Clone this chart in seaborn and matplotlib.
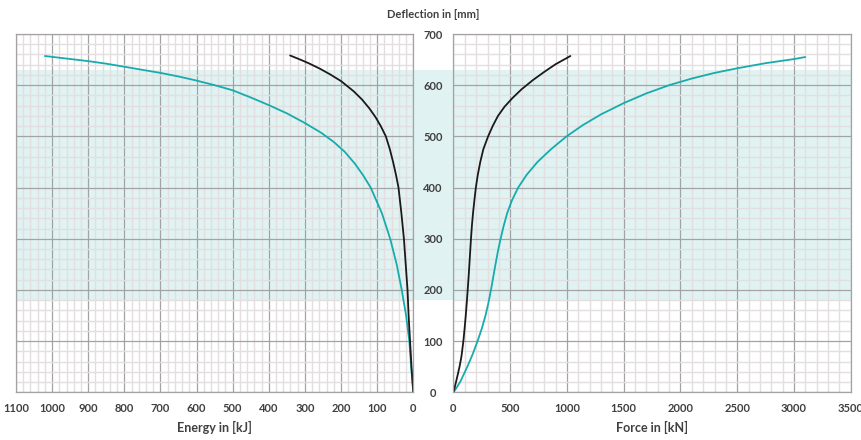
import matplotlib
matplotlib.use("Agg")
import matplotlib.pyplot as plt
import seaborn as sns
import pandas as pd
from matplotlib.ticker import MultipleLocator

# Energy-deflection curves (left panel)
energy_black_kj = [0, 5, 9, 13, 16, 21, 26, 33, 41, 48, 56, 65, 76, 90, 105, 122, 142, 165, 200, 230, 258,
                   290, 313, 341]
energy_black_mm = [0, 50, 100, 150, 200, 250, 300, 350, 400, 425, 450, 475, 500, 520, 538, 555, 572, 588,
                   608, 621, 632, 643, 650, 658]
energy_teal_kj = [0, 6, 11, 20, 32, 46, 64, 87, 118, 139, 161, 190, 220, 255, 300, 350, 400, 450, 500,
                  550, 600, 650, 700, 750, 800, 850, 900, 960, 1020]
energy_teal_mm = [0, 50, 100, 150, 200, 250, 300, 350, 400, 424, 446, 470, 489, 507, 526, 545, 561, 576, 590,
                  600, 609, 617, 624, 630, 636, 642, 647, 652, 657]

# Force-deflection curves (right panel)
force_black_kn = [0, 22, 40, 55, 70, 87, 98, 108, 117, 125, 133, 140, 147, 154, 162, 172, 184, 197, 214,
                  236, 263, 305, 345, 392, 450, 520, 600, 700, 800, 900, 1030]
force_black_mm = [0, 20, 37, 52, 70, 100, 125, 150, 175, 200, 225, 250, 275, 300, 325, 350, 375, 400, 425,
                  450, 475, 500, 520, 540, 558, 575, 592, 610, 626, 641, 657]
force_teal_kn = [0, 30, 58, 90, 122, 170, 212, 250, 282, 308, 330, 350, 370, 391, 415, 442, 473, 515, 570,
                 645, 740, 860, 996, 1140, 1300, 1500, 1700, 1900, 2100, 2300, 2500, 2750, 3000, 3100]
force_teal_mm = [0, 10, 20, 35, 50, 75, 100, 125, 150, 175, 200, 225, 250, 275, 300, 325, 350, 375, 400,
                 425, 450, 475, 500, 522, 543, 565, 584, 600, 613, 624, 633, 643, 651, 655]

band_lo, band_hi = 180, 630

energy_ticks = list(range(0, 1101, 100))
force_ticks = list(range(0, 3501, 500))
defl_ticks = list(range(0, 701, 100))

TEAL = "#17ABAB"
BLACK = "#1A1A1A"
TXT = "#404040"
MAJOR = "#A3A3A3"
MINOR = "#E3DEDF"

sns.set_theme(style="white")
plt.rcParams['font.family'] = ['Lato', 'DejaVu Sans']

W, H = 862, 440
fig = plt.figure(figsize=(W / 100, H / 100), dpi=100)


def box(x0, y0, x1, y1):
    return [x0 / W, 1 - y1 / H, (x1 - x0) / W, (y1 - y0) / H]


# background band spanning both panels and the gap between them
bg = fig.add_axes(box(16, 34, 850.7, 392.3))
bg.axhspan(band_lo, band_hi, color="#E1F2F2", lw=0)
bg.set_ylim(0, 700)
bg.axis("off")

ax_e = fig.add_axes(box(16, 34, 413.3, 392.3))
ax_f = fig.add_axes(box(453.5, 34, 850.7, 392.3))

df_eb = pd.DataFrame({"x": energy_black_kj, "y": energy_black_mm})
df_et = pd.DataFrame({"x": energy_teal_kj, "y": energy_teal_mm})
df_fb = pd.DataFrame({"x": force_black_kn, "y": force_black_mm})
df_ft = pd.DataFrame({"x": force_teal_kn, "y": force_teal_mm})

sns.lineplot(data=df_et, x="x", y="y", sort=False, estimator=None, color=TEAL, lw=1.3, ax=ax_e)
sns.lineplot(data=df_eb, x="x", y="y", sort=False, estimator=None, color=BLACK, lw=1.3, ax=ax_e)
sns.lineplot(data=df_ft, x="x", y="y", sort=False, estimator=None, color=TEAL, lw=1.3, ax=ax_f)
sns.lineplot(data=df_fb, x="x", y="y", sort=False, estimator=None, color=BLACK, lw=1.3, ax=ax_f)

ax_e.set_xlim(1100, 0)
ax_f.set_xlim(0, 3500)
ax_e.set_xticks(energy_ticks)
ax_f.set_xticks(force_ticks)
ax_e.xaxis.set_minor_locator(MultipleLocator(20))
ax_f.xaxis.set_minor_locator(MultipleLocator(100))

for ax in (ax_e, ax_f):
    ax.patch.set_alpha(0)
    ax.set_ylim(0, 700)
    ax.set_yticks(defl_ticks)
    ax.yaxis.set_minor_locator(MultipleLocator(20))
    ax.set_axisbelow(True)
    ax.grid(which="minor", color=MINOR, lw=1.0)
    ax.grid(which="major", color=MAJOR, lw=0.9)
    for s in ax.spines.values():
        s.set_color(MAJOR)
        s.set_linewidth(0.9)
    ax.tick_params(which="both", length=0)
    ax.tick_params(axis="x", pad=8, labelsize=8, labelcolor=TXT)
    for lab in ax.get_xticklabels():
        lab.set_fontweight("bold")
    ax.set_ylabel("")

ax_e.set_yticklabels([])
ax_f.set_yticklabels([str(t) for t in defl_ticks])
ax_f.tick_params(axis="y", pad=14.8, labelsize=8, labelcolor=TXT)
for lab in ax_f.get_yticklabels():
    lab.set_fontweight("bold")
    lab.set_horizontalalignment("center")

ax_e.set_xlabel("Energy in [kJ]", fontsize=9, fontweight="bold", color=TXT, labelpad=5)
ax_f.set_xlabel("Force in [kN]", fontsize=9, fontweight="bold", color=TXT, labelpad=5)

fig.text(433 / W, 1 - 15 / H, "Deflection in [mm]", ha="center", va="center",
         fontsize=8, fontweight="bold", color=TXT)

fig.savefig("out.png", dpi=100)
